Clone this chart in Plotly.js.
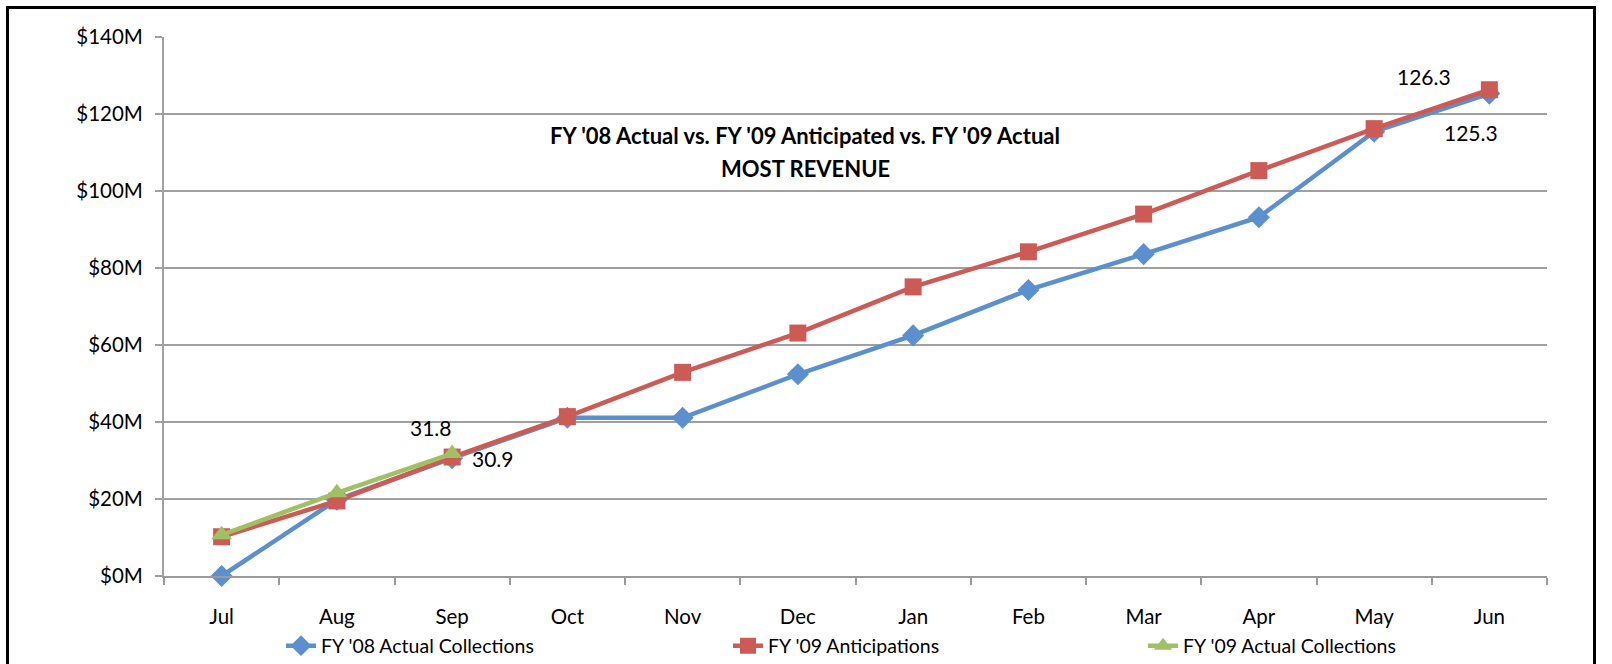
<!DOCTYPE html>
<html>
<head>
<meta charset="utf-8">
<script src="https://cdn.plot.ly/plotly-3.0.1.min.js"></script>
<style>
  html, body { margin: 0; padding: 0; background: #fff; }
  #wrap { position: relative; width: 1612px; height: 664px; overflow: hidden; }
  #chart { width: 1612px; height: 664px; }
  #frame { position: absolute; left: 6px; top: 6px; width: 1590px; height: 700px;
           border: 3px solid #000; box-sizing: border-box; pointer-events: none; }
</style>
</head>
<body>
<div id="wrap">
  <div id="chart"></div>
  <div id="frame"></div>
</div>
<script>
const months = ['Jul', 'Aug', 'Sep', 'Oct', 'Nov', 'Dec', 'Jan', 'Feb', 'Mar', 'Apr', 'May', 'Jun'];
const fy08Actual = [0, 19.8, 30.6, 41.1, 41.1, 52.4, 62.5, 74.3, 83.6, 93.2, 115.4, 125.3];
const fy09Anticipated = [10.2, 19.5, 30.9, 41.4, 52.9, 63.1, 75.1, 84.2, 94.0, 105.3, 116.2, 126.3];
const fy09Actual = [10.7, 21.6, 31.8];
const yTickValues = [0, 20, 40, 60, 80, 100, 120, 140];
const yTickLabels = ['$0M', '$20M', '$40M', '$60M', '$80M', '$100M', '$120M', '$140M'];
const seriesNames = ["FY '08 Actual Collections", "FY '09 Anticipations", "FY '09 Actual Collections"];
const titleLines = ["FY '08 Actual vs. FY '09 Anticipated vs. FY '09 Actual", "MOST REVENUE"];

const FONT = 'Lato, "Open Sans", sans-serif';
const blue = '#5B8FCE', red = '#CC5B56', green = '#A0C163';

const traces = [
  { x: months, y: fy08Actual, name: seriesNames[0], type: 'scatter', mode: 'lines+markers',
    line: { color: blue, width: 4.5 }, marker: { symbol: 'diamond', size: 17, color: blue },
    cliponaxis: false, legend: 'legend' },
  { x: months, y: fy09Anticipated, name: seriesNames[1], type: 'scatter', mode: 'lines+markers',
    line: { color: red, width: 4.5 }, marker: { symbol: 'square', size: 17, color: red },
    cliponaxis: false, legend: 'legend2' },
  { x: months.slice(0, fy09Actual.length), y: fy09Actual, name: seriesNames[2], type: 'scatter', mode: 'lines+markers',
    line: { color: green, width: 4.5 }, marker: { symbol: 'triangle-up', size: 18, color: green },
    cliponaxis: false, legend: 'legend3' }
];

// data labels taken from the series arrays
const labelSpecs = [
  { data: fy09Actual, idx: 2, xshift: -21, yshift: 26 },
  { data: fy09Anticipated, idx: 2, xshift: 41, yshift: -1 },
  { data: fy09Anticipated, idx: 11, xshift: -65, yshift: 13 },
  { data: fy08Actual, idx: 11, xshift: -18, yshift: -39 }
];
const annotations = labelSpecs.map(s => ({
  x: months[s.idx], y: s.data[s.idx], xref: 'x', yref: 'y',
  text: s.data[s.idx].toFixed(1), showarrow: false,
  xshift: s.xshift, yshift: s.yshift,
  font: { family: FONT, size: 21, color: '#000' }
}));
const titleY = [135, 168];
titleLines.forEach((t, i) => annotations.push({
  xref: 'paper', yref: 'paper', x: (805 - 164) / 1383, y: (575.7 - titleY[i]) / 538.7,
  xanchor: 'center', yanchor: 'middle',
  text: '<b>' + t + '</b>', showarrow: false,
  font: { family: FONT, size: 22, color: '#000' }
}));

const legendBase = { orientation: 'h', xref: 'container', yref: 'container',
  yanchor: 'middle', y: 1 - 646 / 664, xanchor: 'left',
  font: { family: FONT, size: 19.5, color: '#000' }, bgcolor: 'rgba(0,0,0,0)', borderwidth: 0 };

const layout = {
  width: 1612, height: 664,
  margin: { l: 164, r: 65, t: 37, b: 88, pad: 0, autoexpand: false },
  paper_bgcolor: '#fff', plot_bgcolor: '#fff',
  font: { family: FONT, size: 20, color: '#000' },
  showlegend: true,
  legend: Object.assign({}, legendBase, { x: 281 / 1612 }),
  legend2: Object.assign({}, legendBase, { x: 728 / 1612 }),
  legend3: Object.assign({}, legendBase, { x: 1143 / 1612 }),
  xaxis: {
    type: 'category', categoryorder: 'array', categoryarray: months,
    range: [-0.5, months.length - 0.5],
    showgrid: false, zeroline: false,
    showline: true, linecolor: '#9a9a9a', linewidth: 2,
    ticks: 'outside', tickson: 'boundaries', ticklen: 7, tickwidth: 2, tickcolor: '#9a9a9a',
    ticklabelstandoff: 21,
    tickfont: { family: FONT, size: 20.5, color: '#000' }
  },
  yaxis: {
    range: [0, 140], tickvals: yTickValues, ticktext: yTickLabels,
    showgrid: true, gridcolor: '#a0a0a0', gridwidth: 2,
    zeroline: false, showline: true, linecolor: '#a0a0a0', linewidth: 2,
    ticks: 'outside', ticklen: 7, tickwidth: 2, tickcolor: '#a0a0a0',
    ticklabelstandoff: 8,
    tickfont: { family: FONT, size: 20.5, color: '#000' }
  },
  annotations: annotations
};

Plotly.newPlot('chart', traces, layout, { displayModeBar: false, staticPlot: true });
</script>
</body>
</html>
